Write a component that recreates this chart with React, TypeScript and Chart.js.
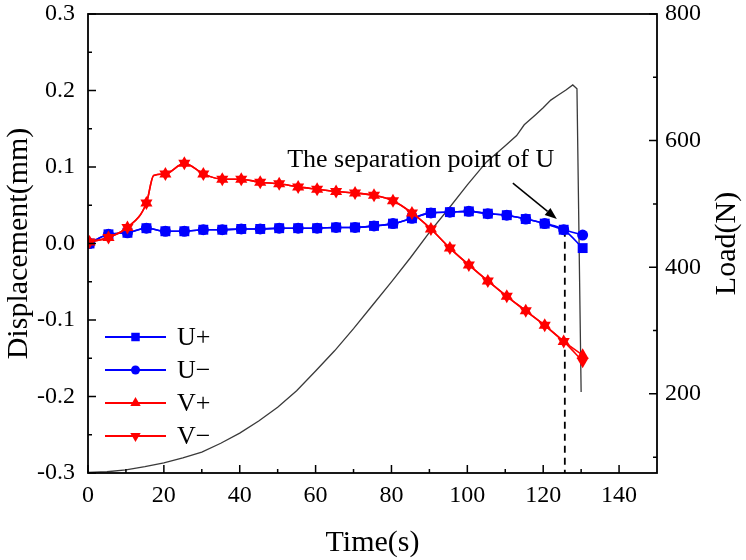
import React, { useEffect, useRef } from "react";
import { Chart, registerables } from "chart.js";

Chart.register(...registerables);

// ---------- data ----------
const timeS = [0.4, 5.4, 10.4, 15.4, 20.4, 25.4, 30.4, 35.4, 40.4, 45.4, 50.4, 55.4, 60.4, 65.4, 70.4, 75.4, 80.4, 85.4, 90.4, 95.4, 100.4, 105.4, 110.4, 115.4, 120.4, 125.4, 130.4];
const uPlus = [0.0, 0.012, 0.014, 0.02, 0.016, 0.016, 0.018, 0.018, 0.019, 0.019, 0.02, 0.02, 0.02, 0.021, 0.021, 0.023, 0.026, 0.033, 0.04, 0.041, 0.042, 0.039, 0.037, 0.032, 0.026, 0.018, -0.006];
const uMinus = [0.0, 0.012, 0.014, 0.02, 0.016, 0.016, 0.018, 0.018, 0.019, 0.019, 0.02, 0.02, 0.02, 0.021, 0.021, 0.023, 0.026, 0.033, 0.04, 0.041, 0.042, 0.039, 0.037, 0.032, 0.026, 0.018, 0.011];
const vPlus = [0.002, 0.008, 0.021, 0.053, 0.091, 0.105, 0.091, 0.084, 0.084, 0.08, 0.078, 0.074, 0.071, 0.068, 0.066, 0.063, 0.056, 0.04, 0.019, -0.006, -0.028, -0.049, -0.069, -0.088, -0.107, -0.128, -0.146];
const vMinus = [0.002, 0.008, 0.021, 0.053, 0.091, 0.105, 0.091, 0.084, 0.084, 0.08, 0.078, 0.074, 0.071, 0.068, 0.066, 0.063, 0.056, 0.04, 0.019, -0.006, -0.028, -0.049, -0.069, -0.088, -0.107, -0.128, -0.154];
// unmarked point of the V curves (sharp bend)
const vBendTime = [17.3];
const vBendValue = [0.089];

const loadTime = [0, 5, 10, 15, 20, 25, 30, 35, 40, 45, 50, 55, 60, 65, 70, 75, 80, 85, 90, 95, 100, 105, 110, 113, 115, 118, 120, 122, 124, 126, 127.8, 128.9, 130.0];
const loadN = [76, 77, 80, 85, 91, 99, 108, 122, 138, 157, 179, 205, 236, 268, 303, 340, 377, 415, 455, 492, 530, 566, 592, 608, 625, 641, 652, 664, 672, 680, 688, 682, 203];

const seriesNames = ["U+", "U\u2212", "V+", "V\u2212"];
const xTitle = "Time(s)";
const yTitle = "Displacement(mm)";
const y1Title = "Load(N)";
const annotationText = "The separation point of U";
const annotationAt = [52.5, 0.1];
const arrowFrom = [112.0, 0.079];
const arrowTo = [123.6, 0.032];
const separationTime = 125.7;
const separationRange = [0.018, -0.3];

const xTicks = [0, 20, 40, 60, 80, 100, 120, 140];
const xMinor = [10, 30, 50, 70, 90, 110, 130];
const yTicks = [-0.3, -0.2, -0.1, 0.0, 0.1, 0.2, 0.3];
const yMinor = [-0.25, -0.15, -0.05, 0.05, 0.15, 0.25];
const y1Ticks = [200, 400, 600, 800];
const y1Minor = [100, 300, 500, 700];

// ---------- styles ----------
const BLUE = "#0000FF";
const RED = "#FF0000";
const FONT = '"Liberation Serif", "Times New Roman", serif';

const pts = (xs: number[], ys: number[]) => xs.map((x, i) => ({ x, y: ys[i] }));

function withBend(ys: number[]) {
  const base = timeS.map((x, i) => ({ x, y: ys[i], bend: false }));
  vBendTime.forEach((x, i) => base.push({ x, y: vBendValue[i], bend: true }));
  base.sort((a, b) => a.x - b.x);
  return base;
}

function drawMarker(ctx: CanvasRenderingContext2D, kind: string, x: number, y: number, r: number, color: string) {
  ctx.save();
  ctx.fillStyle = color;
  ctx.beginPath();
  if (kind === "rect") {
    const s = r * Math.SQRT1_2;
    ctx.rect(x - s, y - s, 2 * s, 2 * s);
  } else if (kind === "circle") {
    ctx.arc(x, y, r, 0, Math.PI * 2);
  } else {
    const down = kind === "down";
    let a = down ? Math.PI : 0;
    for (let k = 0; k < 3; k++) {
      const px = x + Math.sin(a) * r;
      const py = y - Math.cos(a) * r;
      if (k === 0) ctx.moveTo(px, py);
      else ctx.lineTo(px, py);
      a += (2 * Math.PI) / 3;
    }
    ctx.closePath();
  }
  ctx.fill();
  ctx.restore();
}

const decorPlugin = {
  id: "decor",
  afterDatasetsDraw(chart: any) {
    const ctx: CanvasRenderingContext2D = chart.ctx;
    const { left, right, top, bottom } = chart.chartArea;
    const xs = chart.scales.x;
    const ys = chart.scales.y;
    const y1 = chart.scales.y1;
    ctx.save();
    ctx.strokeStyle = "#000";
    // ticks (inward)
    ctx.lineWidth = 1.5;
    ctx.beginPath();
    const tick = (x0: number, y0: number, x1: number, y1p: number) => {
      ctx.moveTo(x0, y0);
      ctx.lineTo(x1, y1p);
    };
    xTicks.forEach((v) => { const p = xs.getPixelForValue(v); tick(p, bottom, p, bottom - 8); });
    xMinor.forEach((v) => { const p = xs.getPixelForValue(v); tick(p, bottom, p, bottom - 4); });
    yTicks.forEach((v) => { const p = ys.getPixelForValue(v); tick(left, p, left + 8, p); });
    yMinor.forEach((v) => { const p = ys.getPixelForValue(v); tick(left, p, left + 4, p); });
    y1Ticks.forEach((v) => { const p = y1.getPixelForValue(v); tick(right, p, right - 8, p); });
    y1Minor.forEach((v) => { const p = y1.getPixelForValue(v); tick(right, p, right - 4, p); });
    ctx.stroke();
    // frame
    ctx.lineWidth = 1.8;
    ctx.strokeRect(left, top, right - left, bottom - top);

    // arrow
    const ax0 = xs.getPixelForValue(arrowFrom[0]);
    const ay0 = ys.getPixelForValue(arrowFrom[1]);
    const ax1 = xs.getPixelForValue(arrowTo[0]);
    const ay1 = ys.getPixelForValue(arrowTo[1]);
    const ang = Math.atan2(ay1 - ay0, ax1 - ax0);
    const hl = 12, hw = 4.5;
    const bx = ax1 - Math.cos(ang) * hl;
    const by = ay1 - Math.sin(ang) * hl;
    ctx.lineWidth = 1.5;
    ctx.beginPath();
    ctx.moveTo(ax0, ay0);
    ctx.lineTo(bx, by);
    ctx.stroke();
    ctx.fillStyle = "#000";
    ctx.beginPath();
    ctx.moveTo(ax1, ay1);
    ctx.lineTo(bx - Math.sin(ang) * hw, by + Math.cos(ang) * hw);
    ctx.lineTo(bx + Math.sin(ang) * hw, by - Math.cos(ang) * hw);
    ctx.closePath();
    ctx.fill();

    // annotation text
    ctx.fillStyle = "#000";
    ctx.font = `26px ${FONT}`;
    ctx.textAlign = "left";
    ctx.textBaseline = "alphabetic";
    ctx.fillText(annotationText, xs.getPixelForValue(annotationAt[0]), ys.getPixelForValue(annotationAt[1]));

    // legend
    const kinds = ["rect", "circle", "up", "down"];
    const colors = [BLUE, BLUE, RED, RED];
    const sizes = [6, 4.5, 6, 6];
    ctx.font = `26px ${FONT}`;
    ctx.textBaseline = "middle";
    seriesNames.forEach((name, i) => {
      const ry = top + 323 + i * 33;
      const lx0 = left + 17;
      const lx1 = left + 78;
      ctx.strokeStyle = colors[i];
      ctx.lineWidth = 1.8;
      ctx.beginPath();
      ctx.moveTo(lx0, ry);
      ctx.lineTo(lx1, ry);
      ctx.stroke();
      drawMarker(ctx, kinds[i], (lx0 + lx1) / 2, ry, sizes[i], colors[i]);
      ctx.fillStyle = "#000";
      ctx.fillText(name, left + 89, ry + 1);
    });

    // axis titles
    ctx.font = `30px ${FONT}`;
    ctx.textAlign = "center";
    ctx.textBaseline = "middle";
    ctx.fillText(xTitle, (left + right) / 2, 543);
    const cy = (top + bottom) / 2;
    ctx.save();
    ctx.translate(19, cy);
    ctx.rotate(-Math.PI / 2);
    ctx.fillText(yTitle, 0, 0);
    ctx.restore();
    ctx.save();
    ctx.translate(727, cy);
    ctx.rotate(-Math.PI / 2);
    ctx.fillText(y1Title, 0, 0);
    ctx.restore();
    ctx.restore();
  },
};

export default function App() {
  const ref = useRef<HTMLCanvasElement | null>(null);
  useEffect(() => {
    if (!ref.current) return;
    const tickFont = { family: FONT, size: 24 };
    const chart = new Chart(ref.current, {
      type: "line",
      data: {
        datasets: [
          {
            label: seriesNames[3],
            data: withBend(vMinus),
            borderColor: RED,
            backgroundColor: RED,
            borderWidth: 1.6,
            pointStyle: "triangle",
            rotation: 180,
            pointRadius: (c: any) => (c.raw && c.raw.bend ? 0 : 7),
            pointBorderWidth: 0,
            cubicInterpolationMode: "monotone",
            yAxisID: "y",
            order: 1,
          } as any,
          {
            label: seriesNames[2],
            data: withBend(vPlus),
            borderColor: RED,
            backgroundColor: RED,
            borderWidth: 1.6,
            pointStyle: "triangle",
            pointRadius: (c: any) => (c.raw && c.raw.bend ? 0 : 7),
            pointBorderWidth: 0,
            cubicInterpolationMode: "monotone",
            yAxisID: "y",
            order: 2,
          } as any,
          {
            label: seriesNames[1],
            data: pts(timeS, uMinus),
            borderColor: BLUE,
            backgroundColor: BLUE,
            borderWidth: 1.6,
            pointStyle: "circle",
            pointRadius: 5.5,
            pointBorderWidth: 0,
            cubicInterpolationMode: "monotone",
            yAxisID: "y",
            order: 3,
          },
          {
            label: seriesNames[0],
            data: pts(timeS, uPlus),
            borderColor: BLUE,
            backgroundColor: BLUE,
            borderWidth: 1.6,
            pointStyle: "rect",
            pointRadius: 7,
            pointBorderWidth: 0,
            cubicInterpolationMode: "monotone",
            yAxisID: "y",
            order: 4,
          },
          {
            label: "separation",
            data: separationRange.map((y) => ({ x: separationTime, y })),
            borderColor: "#000",
            borderWidth: 1.8,
            borderDash: [7, 5],
            pointRadius: 0,
            yAxisID: "y",
            order: 5,
          },
          {
            label: "Load",
            data: pts(loadTime, loadN),
            borderColor: "#3a3a3a",
            borderWidth: 1.3,
            pointRadius: 0,
            tension: 0,
            yAxisID: "y1",
            order: 6,
          },
        ],
      },
      options: {
        animation: false,
        responsive: false,
        devicePixelRatio: 1,
        layout: { padding: { top: 14, left: 0, right: 0, bottom: 0 } },
        plugins: { legend: { display: false }, tooltip: { enabled: false }, title: { display: false } },
        scales: {
          x: {
            type: "linear",
            min: 0,
            max: 150,
            afterBuildTicks: (s: any) => { s.ticks = xTicks.map((v) => ({ value: v })); },
            afterFit: (s: any) => { s.height = 87; s.paddingLeft = 0; s.paddingRight = 0; },
            ticks: { font: tickFont, color: "#000", padding: 0, maxRotation: 0, autoSkip: false, callback: (v: any) => String(v) },
            grid: { display: false },
            border: { display: false },
          },
          y: {
            type: "linear",
            position: "left",
            min: -0.3,
            max: 0.3,
            afterBuildTicks: (s: any) => { s.ticks = yTicks.map((v) => ({ value: v })); },
            afterFit: (s: any) => { s.width = 88; s.paddingTop = 0; s.paddingBottom = 0; },
            ticks: { font: tickFont, color: "#000", padding: 5, autoSkip: false, callback: (v: any) => Number(v).toFixed(1) },
            grid: { display: false },
            border: { display: false },
          },
          y1: {
            type: "linear",
            position: "right",
            min: 75,
            max: 800,
            afterBuildTicks: (s: any) => { s.ticks = y1Ticks.map((v) => ({ value: v })); },
            afterFit: (s: any) => { s.width = 89; s.paddingTop = 0; s.paddingBottom = 0; },
            ticks: { font: tickFont, color: "#000", padding: 0, autoSkip: false, callback: (v: any) => String(v) },
            grid: { display: false },
            border: { display: false },
          },
        },
      } as any,
      plugins: [decorPlugin],
    });
    return () => chart.destroy();
  }, []);
  return (
    <div style={{ position: "absolute", left: 0, top: 0, width: 746, height: 560, background: "#fff" }}>
      <canvas ref={ref} width={746} height={560} style={{ display: "block" }} />
    </div>
  );
}
